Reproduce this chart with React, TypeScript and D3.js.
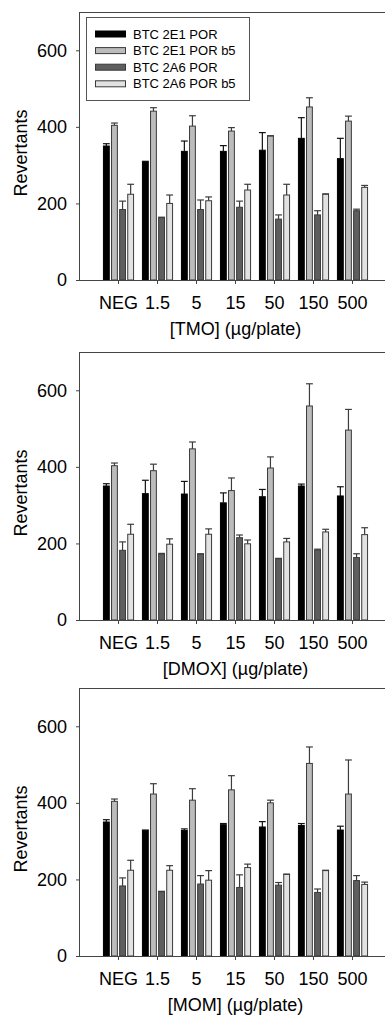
import * as d3 from "d3"
import { useEffect, useRef } from "react"

const DOSES = ["NEG", "1.5", "5", "15", "50", "150", "500"]
const SERIES = ["BTC 2E1 POR", "BTC 2E1 POR b5", "BTC 2A6 POR", "BTC 2A6 POR b5"]
const COLORS = ["#000000", "#bcbcbc", "#5e5e5e", "#e2e2e2"]
const Y_TICKS = [0, 200, 400, 600]

// TMO
const TMO_MEAN = [
  [350, 309, 336, 336, 339, 370, 317],
  [404, 441, 402, 389, 376, 452, 415],
  [184, 163, 184, 190, 159, 170, 181],
  [224, 200, 207, 235, 222, 224, 242],
]
const TMO_ERR = [
  [6, 1, 27, 15, 46, 54, 53],
  [6, 9, 27, 9, 1, 24, 13],
  [22, 1, 25, 16, 11, 11, 4],
  [26, 22, 10, 15, 28, 1, 5],
]

// DMOX
const DMOX_MEAN = [
  [350, 330, 329, 306, 322, 350, 324],
  [403, 390, 447, 338, 397, 559, 496],
  [182, 172, 172, 215, 160, 183, 163],
  [224, 198, 224, 199, 204, 230, 223],
]
const DMOX_ERR = [
  [6, 35, 33, 26, 19, 5, 24],
  [7, 17, 18, 33, 29, 58, 54],
  [22, 2, 1, 7, 1, 2, 10],
  [26, 14, 14, 10, 9, 7, 18],
]

// MOM
const MOM_MEAN = [
  [350, 328, 328, 343, 337, 341, 329],
  [404, 423, 407, 434, 400, 503, 423],
  [183, 168, 188, 179, 185, 166, 197],
  [224, 224, 198, 231, 213, 223, 187],
]
const MOM_ERR = [
  [6, 1, 4, 3, 14, 5, 10],
  [6, 27, 30, 37, 7, 43, 89],
  [21, 1, 22, 33, 7, 9, 13],
  [26, 12, 25, 9, 1, 1, 6],
]

const PANELS = [
  { title: "[TMO] (µg/plate)", mean: TMO_MEAN, err: TMO_ERR, top: 12, legend: true },
  { title: "[DMOX] (µg/plate)", mean: DMOX_MEAN, err: DMOX_ERR, top: 352, legend: false },
  { title: "[MOM] (µg/plate)", mean: MOM_MEAN, err: MOM_ERR, top: 688, legend: false },
]

const W = 385
const H = 1017
const FONT = "'Liberation Sans', Arial, sans-serif"

export default function App() {
  const ref = useRef<SVGSVGElement | null>(null)

  useEffect(() => {
    if (!ref.current) return
    const svg = d3.select(ref.current)
    svg.selectAll("*").remove()

    const left = 79
    const right = 392
    const plotH = 268

    const x = d3.scaleBand<string>().domain(DOSES).range([left, right]).paddingInner(0).paddingOuter(0.513)
    const xi = d3
      .scaleBand<number>()
      .domain(d3.range(SERIES.length))
      .range([0, x.step()])
      .paddingInner(0.28)
      .paddingOuter(0.548)

    PANELS.forEach((p) => {
      const y = d3.scaleLinear().domain([0, 700]).range([p.top + plotH, p.top])
      const g = svg.append("g")

      // frame top line
      g.append("line")
        .attr("x1", left)
        .attr("x2", W + 10)
        .attr("y1", y(700) + 0.5)
        .attr("y2", y(700) + 0.5)
        .attr("stroke", "#444")

      // bars
      SERIES.forEach((_, si) => {
        g.append("g")
          .selectAll("rect")
          .data(p.mean[si])
          .join("rect")
          .attr("x", (_d, i) => x(DOSES[i])! + xi(si)!)
          .attr("y", (d) => y(d))
          .attr("width", xi.bandwidth())
          .attr("height", (d) => y(0) - y(d))
          .attr("fill", COLORS[si])
          .attr("stroke", si === 0 ? "#000" : "#3a3a3a")
          .attr("stroke-width", 1)

        const eb = g
          .append("g")
          .attr("stroke", si === 0 ? "#111" : "#3c3c3c")
          .attr("stroke-width", 1.2)
          .selectAll("g")
          .data(p.mean[si])
          .join("g")
        eb.append("line")
          .attr("x1", (_d, i) => x(DOSES[i])! + xi(si)! + xi.bandwidth() / 2)
          .attr("x2", (_d, i) => x(DOSES[i])! + xi(si)! + xi.bandwidth() / 2)
          .attr("y1", (d) => y(d))
          .attr("y2", (d, i) => y(d + p.err[si][i]))
        eb.append("line")
          .attr("x1", (_d, i) => x(DOSES[i])! + xi(si)! - 0.5)
          .attr("x2", (_d, i) => x(DOSES[i])! + xi(si)! + xi.bandwidth() + 0.5)
          .attr("y1", (d, i) => y(d + p.err[si][i]))
          .attr("y2", (d, i) => y(d + p.err[si][i]))
      })

      // axes
      const ya = g
        .append("g")
        .attr("transform", `translate(${left},0)`)
        .call(d3.axisLeft(y).tickValues(Y_TICKS).tickSize(3).tickPadding(9).tickSizeOuter(0))
      ya.select(".domain").attr("stroke", "#444")
      ya.selectAll("line").attr("stroke", "#444")
      ya.selectAll("text").attr("font-size", 18).attr("font-family", FONT).attr("fill", "#000")

      const xa = g
        .append("g")
        .attr("transform", `translate(0,${y(0)})`)
        .call(d3.axisBottom(x).tickSize(4).tickPadding(12).tickSizeOuter(0))
      xa.select(".domain").attr("stroke", "#444").attr("d", `M${left},0.5H${W + 10}`)
      xa.selectAll("line").attr("stroke", "#444")
      xa.selectAll("text").attr("font-size", 18).attr("font-family", FONT).attr("fill", "#000")

      g.append("text")
        .attr("x", (left + right) / 2)
        .attr("y", y(0) + 55)
        .attr("text-anchor", "middle")
        .attr("font-size", 18)
        .attr("font-family", FONT)
        .attr("fill", "#000")
        .text(p.title)

      g.append("text")
        .attr("transform", `translate(27,${(y(0) + y(700)) / 2 + 7}) rotate(-90)`)
        .attr("text-anchor", "middle")
        .attr("font-size", 18)
        .attr("font-family", FONT)
        .attr("fill", "#000")
        .text("Revertants")

      if (p.legend) {
        const lg = g.append("g")
        lg.append("rect")
          .attr("x", 86.5)
          .attr("y", p.top + 5.5)
          .attr("width", 163)
          .attr("height", 83)
          .attr("fill", "#fff")
          .attr("stroke", "#555")
        SERIES.forEach((s, si) => {
          const cy = p.top + 22 + si * 16.6
          lg.append("rect")
            .attr("x", 95.5)
            .attr("y", cy - 3)
            .attr("width", 30)
            .attr("height", 6)
            .attr("fill", COLORS[si])
            .attr("stroke", si === 0 ? "#000" : "#3a3a3a")
          lg.append("text")
            .attr("x", 133)
            .attr("y", cy + 4.5)
            .attr("font-size", 13)
            .attr("font-family", FONT)
            .attr("fill", "#000")
            .text(s)
        })
      }
    })
  }, [])

  return (
    <svg
      ref={ref}
      width={W}
      height={H}
      viewBox={`0 0 ${W} ${H}`}
      style={{ position: "absolute", left: 0, top: 0, background: "#fff" }}
    />
  )
}
